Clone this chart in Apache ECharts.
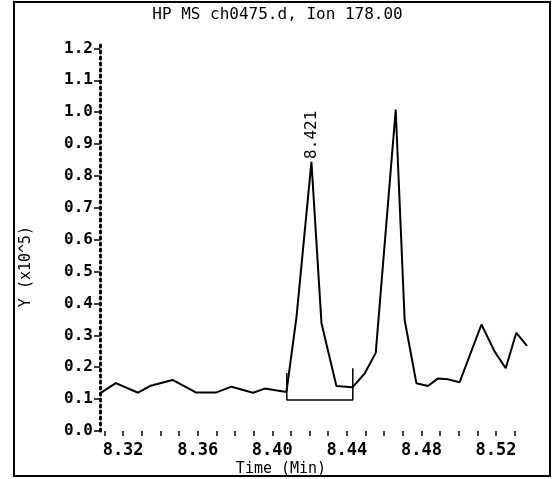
<!DOCTYPE html>
<html>
<head>
<meta charset="utf-8">
<script src="https://cdn.jsdelivr.net/npm/echarts@6/dist/echarts.min.js"></script>
<style>
  html, body { margin: 0; padding: 0; background: #fff; }
  #chart { width: 555px; height: 479px; }
</style>
</head>
<body>
<div id="chart"></div>
<script>
// Ion 178 trace, abundance in units of 1e5 against retention time (min)
const times = [
  8.3084, 8.3161, 8.3280, 8.3343, 8.3465, 8.3590, 8.3701, 8.3781, 8.3897, 8.3960,
  8.4076, 8.4130, 8.4210, 8.4264, 8.4344, 8.4430, 8.4496, 8.4555, 8.4662, 8.4710,
  8.4773, 8.4835, 8.4889, 8.4943, 8.5005, 8.5122, 8.5193, 8.5252, 8.5309, 8.5366
];
const intensities = [
  0.121, 0.150, 0.120, 0.141, 0.160, 0.121, 0.121, 0.139, 0.120, 0.133,
  0.122, 0.358, 0.844, 0.338, 0.141, 0.137, 0.181, 0.245, 1.008, 0.348,
  0.150, 0.141, 0.165, 0.162, 0.153, 0.334, 0.249, 0.197, 0.308, 0.267
];

// integration baseline drawn under the labelled peak
const baselineTimes = [8.4078, 8.4078, 8.4432, 8.4432];
const baselineValues = [0.182, 0.097, 0.097, 0.197];

// labelled peak (retention time)
const peakLabelTime = 8.421;

// axis ticks
const xLabelValues = [8.32, 8.36, 8.40, 8.44, 8.48, 8.52];
const xTickValues = [8.31, 8.32, 8.33, 8.34, 8.35, 8.36, 8.37, 8.38, 8.39, 8.40, 8.41,
                     8.42, 8.43, 8.44, 8.45, 8.46, 8.47, 8.48, 8.49, 8.50, 8.51, 8.52, 8.53];
const yMax = 1.22;
const yStep = 0.1;

const mono = '"DejaVu Sans Mono", "Liberation Mono", monospace';

const traceData = times.map((t, i) => {
  const item = { value: [t, intensities[i]] };
  if (Math.abs(t - peakLabelTime) < 1e-9) {
    item.label = {
      show: true,
      formatter: peakLabelTime.toFixed(3),
      position: 'top',
      rotate: 90,
      align: 'left',
      verticalAlign: 'middle',
      distance: 3,
      color: '#000',
      fontFamily: mono,
      fontSize: 16
    };
  }
  return item;
});

const chart = echarts.init(document.getElementById('chart'), null, { renderer: 'canvas' });

chart.setOption({
  backgroundColor: '#fff',
  animation: false,
  title: {
    text: 'HP MS ch0475.d, Ion 178.00',
    left: 'center',
    top: 2,
    textStyle: { fontFamily: mono, fontSize: 16, fontWeight: 'normal', color: '#000' }
  },
  graphic: [{
    type: 'rect',
    shape: { x: 14, y: 2, width: 536, height: 474 },
    style: { fill: 'none', stroke: '#000', lineWidth: 2 },
    silent: true,
    z: -1
  }],
  grid: { left: 100, top: 42, width: 440, height: 389, outerBoundsMode: 'none', containLabel: false },
  xAxis: {
    type: 'value',
    min: 8.3076,
    max: 8.5436,
    name: 'Time (Min)',
    nameLocation: 'middle',
    nameGap: 31,
    nameMoveOverlap: false,
    nameTextStyle: { fontFamily: mono, fontSize: 15, color: '#000', padding: [0, 78, 0, 0] },
    axisLine: { show: false },
    axisTick: {
      show: true,
      customValues: xTickValues,
      length: 5,
      inside: false,
      lineStyle: { color: '#000', width: 1.5 }
    },
    axisLabel: {
      customValues: xLabelValues,
      formatter: v => v.toFixed(2),
      margin: 11,
      fontFamily: mono,
      fontSize: 17,
      fontWeight: 'bold',
      color: '#000'
    },
    splitLine: { show: false }
  },
  yAxis: {
    type: 'value',
    min: 0,
    max: yMax,
    interval: yStep,
    name: 'Y (x10^5)',
    nameLocation: 'middle',
    nameRotate: 90,
    nameGap: 66,
    nameMoveOverlap: false,
    nameTextStyle: { fontFamily: mono, fontSize: 15, color: '#000', padding: [0, 60, 0, 0] },
    axisLine: { show: true, lineStyle: { color: '#000', width: 3, type: [2, 4] } },
    axisTick: { show: true, length: 6, lineStyle: { color: '#000', width: 1.5 } },
    axisLabel: {
      showMaxLabel: false,
      formatter: v => v.toFixed(1),
      margin: 7,
      fontFamily: mono,
      fontSize: 16,
      fontWeight: 'bold',
      color: '#000'
    },
    splitLine: { show: false }
  },
  series: [
    {
      name: 'Ion 178.00',
      type: 'line',
      data: traceData,
      showSymbol: true,
      symbol: 'circle',
      symbolSize: 0,
      itemStyle: { color: '#000' },
      lineStyle: { color: '#000', width: 2 },
      z: 3
    },
    {
      name: 'baseline',
      type: 'line',
      data: baselineTimes.map((t, i) => [t, baselineValues[i]]),
      symbol: 'none',
      lineStyle: { color: '#000', width: 1.5 },
      z: 2
    }
  ]
});
</script>
</body>
</html>
